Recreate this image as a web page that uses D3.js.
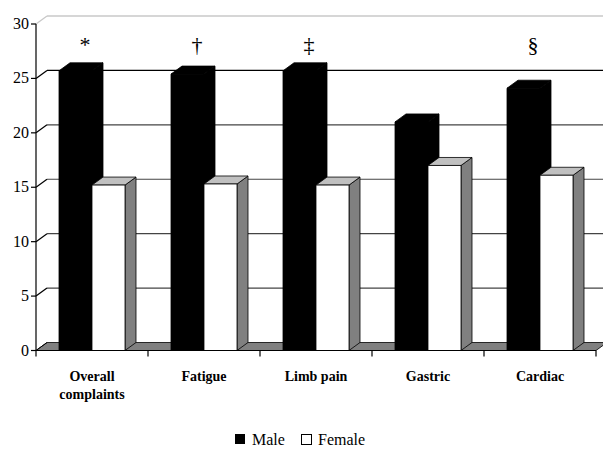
<!DOCTYPE html>
<html><head><meta charset="utf-8">
<script src="https://cdn.jsdelivr.net/npm/d3@7"></script>
<style>body{margin:0;background:#fff}</style>
</head><body>
<svg id="c" width="603" height="450" style="font-family:'Liberation Serif'"></svg>
<script>
const categories = ["Overall complaints","Fatigue","Limb pain","Gastric","Cardiac"];
const labelLines = [["Overall","complaints"],["Fatigue"],["Limb pain"],["Gastric"],["Cardiac"]];
const series = ["Male","Female"];
const male = [25.7, 25.4, 25.7, 21.0, 24.1];
const female = [15.2, 15.3, 15.2, 17.0, 16.1];
const marks = ["*","\u2020","\u2021","","\u00A7"];
const yTicks = [0,5,10,15,20,25,30];

const SERIF = '"Liberation Serif"';
const svg = d3.select("#c");
const DX = 11, DY = 8;
const x0 = 36, x1 = 596;
const y = d3.scaleLinear().domain([0,30]).range([350.5, 24]);
const xb = d3.scaleBand().domain(categories).range([x0,x1]).paddingInner(46/112).paddingOuter(23/112);
const xs = d3.scaleBand().domain(series).range([0, xb.bandwidth()]);
const yb = y(0);

// texts first
yTicks.forEach(t => {
  svg.append("text").attr("x", x0-7).attr("y", y(t)+5).attr("text-anchor","end")
    .style("font-family", SERIF).attr("font-size", 16).text(t);
});
categories.forEach((c,i) => {
  const cx = xb(c) + xb.bandwidth()/2;
  labelLines[i].forEach((l,j) => svg.append("text").attr("x", cx).attr("y", 381 + j*18)
    .attr("text-anchor","middle").style("font-family", SERIF).attr("font-weight","bold").attr("font-size", 14).text(l));
  if (marks[i]) svg.append("text").attr("x", cx - 7).attr("y", 52).attr("text-anchor","middle")
    .style("font-family", SERIF).attr("font-size", 22).text(marks[i]);
});
svg.append("rect").attr("x", 235).attr("y", 434).attr("width", 10).attr("height", 10).attr("fill","#000");
svg.append("text").attr("x", 252).attr("y", 445).style("font-family", SERIF).attr("font-size", 16).text(series[0]);
svg.append("rect").attr("x", 301.5).attr("y", 434.5).attr("width", 10).attr("height", 10).attr("fill","#fff").attr("stroke","#000");
svg.append("text").attr("x", 318).attr("y", 445).style("font-family", SERIF).attr("font-size", 16).text(series[1]);

// floor
svg.append("path").attr("d", `M${x0},${yb}L${x1},${yb}L${x1+DX},${yb-DY}L${x0+DX},${yb-DY}Z`)
  .attr("fill","#808080").attr("stroke","#000").attr("stroke-width",0.8);

// back wall gridlines
yTicks.filter(t => t>0).forEach(t => {
  const yy = y(t) - DY;
  const top = t === 30;
  svg.append("line").attr("x1", x0+DX).attr("x2", 610).attr("y1", yy).attr("y2", yy)
    .attr("stroke", top ? "#c8c8c8" : (t===25 ? "#000" : "#444")).attr("stroke-width", top ? 1.5 : 1.2);
  svg.append("line").attr("x1", x0).attr("y1", y(t)).attr("x2", x0+DX).attr("y2", yy)
    .attr("stroke", top ? "#c8c8c8" : "#000").attr("stroke-width", 1.2);
});
svg.append("line").attr("x1", x0).attr("y1", yb).attr("x2", x0+DX).attr("y2", yb-DY).attr("stroke","#000");

// bars
function bar(xl, w, v, front, topc, side) {
  const yt = y(v);
  const g = svg.append("g").attr("stroke","#000").attr("stroke-width",0.8).attr("stroke-linejoin","round");
  g.append("path").attr("d", `M${xl+w},${yb}L${xl+w+DX},${yb-DY}L${xl+w+DX},${yt-DY}L${xl+w},${yt}Z`).attr("fill", side);
  g.append("path").attr("d", `M${xl},${yt}L${xl+DX},${yt-DY}L${xl+w+DX},${yt-DY}L${xl+w},${yt}Z`).attr("fill", topc);
  g.append("rect").attr("x", xl).attr("y", yt).attr("width", w).attr("height", yb-yt).attr("fill", front);
}
categories.forEach((c,i) => {
  bar(xb(c)+xs("Male"), xs.bandwidth(), male[i], "#000", "#000", "#000");
  bar(xb(c)+xs("Female"), xs.bandwidth(), female[i], "#fff", "#c0c0c0", "#808080");
});

// axes
svg.append("line").attr("x1", x0).attr("x2", x0).attr("y1", y(30)).attr("y2", yb).attr("stroke","#000").attr("stroke-width",1.2);
svg.append("line").attr("x1", x0).attr("x2", x1).attr("y1", yb).attr("y2", yb).attr("stroke","#000").attr("stroke-width",1.2);
yTicks.forEach(t => svg.append("line").attr("x1", x0-5).attr("x2", x0).attr("y1", y(t)).attr("y2", y(t)).attr("stroke","#000").attr("stroke-width",1.2));
const edges = categories.map(c => xb(c) - xb.step()*xb.paddingOuter()).concat([x1]);
edges.forEach(e => svg.append("line").attr("x1", e).attr("x2", e).attr("y1", yb).attr("y2", yb+6).attr("stroke","#000").attr("stroke-width",1.2));
</script>
</body></html>
